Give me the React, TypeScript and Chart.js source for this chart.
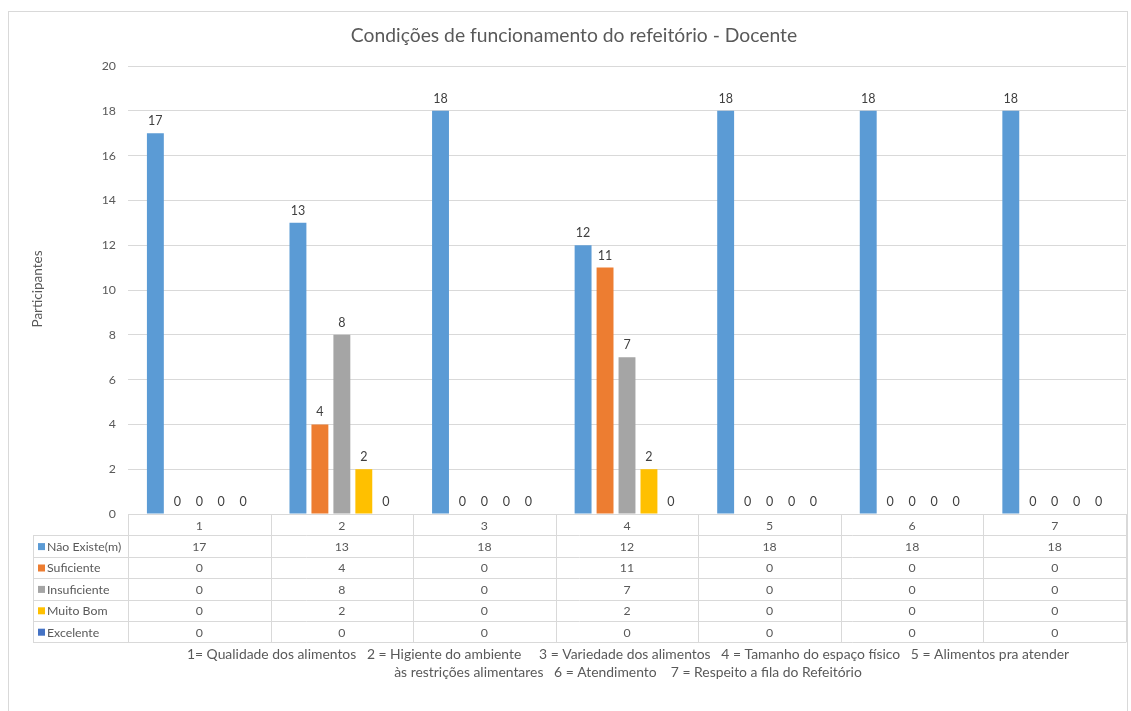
import React, { useEffect, useRef } from "react";
import { Chart, registerables } from "chart.js";

Chart.register(...registerables);

const TITLE = "Condições de funcionamento do refeitório - Docente";
const Y_TITLE = "Participantes";
const categories = ["1", "2", "3", "4", "5", "6", "7"];
const seriesNames = ["Não Existe(m)", "Suficiente", "Insuficiente", "Muito Bom", "Excelente"];
const naoExiste = [17, 13, 18, 12, 18, 18, 18];
const suficiente = [0, 4, 0, 11, 0, 0, 0];
const insuficiente = [0, 8, 0, 7, 0, 0, 0];
const muitoBom = [0, 2, 0, 2, 0, 0, 0];
const excelente = [0, 0, 0, 0, 0, 0, 0];
const seriesColors = ["#5B9BD5", "#ED7D31", "#A5A5A5", "#FFC000", "#4472C4"];
const yTicks = [0, 2, 4, 6, 8, 10, 12, 14, 16, 18, 20];
const footnoteLines = [
  "1= Qualidade dos alimentos   2 = Higiente do ambiente     3 = Variedade dos alimentos   4 = Tamanho do espaço físico   5 = Alimentos pra atender",
  "às restrições alimentares   6 = Atendimento    7 = Respeito a fila do Refeitório",
];

const FONT = "Lato, 'Open Sans', sans-serif";
const TEXT = "#595959";
const GRID = "#D9D9D9";

const W = 1131;
const H = 711;

const decorPlugin = {
  id: "decor",
  beforeDraw(chart: any) {
    const ctx = chart.ctx;
    ctx.save();
    ctx.fillStyle = "#fff";
    ctx.fillRect(0, 0, W, H);
    ctx.strokeStyle = GRID;
    ctx.lineWidth = 1;
    ctx.strokeRect(8.5, 11.5, 1119, 760);
    ctx.restore();
  },
  afterDraw(chart: any) {
    const ctx = chart.ctx;
    const area = chart.chartArea;
    const xs = chart.scales.x;
    ctx.save();
    // Title
    ctx.fillStyle = TEXT;
    ctx.font = `19.3px ${FONT}`;
    ctx.textAlign = "center";
    ctx.textBaseline = "middle";
    ctx.fillText(TITLE, 574, 36);
    // Y title
    ctx.save();
    ctx.translate(38, 289);
    ctx.rotate(-Math.PI / 2);
    ctx.font = `13.5px ${FONT}`;
    ctx.fillText(Y_TITLE, 0, 0);
    ctx.restore();

    // Data labels
    ctx.font = `12.5px ${FONT}`;
    ctx.fillStyle = "#404040";
    ctx.textAlign = "center";
    ctx.textBaseline = "alphabetic";
    chart.data.datasets.forEach((ds: any, di: number) => {
      const meta = chart.getDatasetMeta(di);
      meta.data.forEach((el: any, i: number) => {
        const v = ds.data[i];
        ctx.fillText(String(v), el.x, el.y - 8);
      });
    });

    // Data table
    const n = categories.length;
    const catW = (area.right - area.left) / n;
    const top = area.bottom;
    const rowH = 21.4;
    const rows = seriesNames.length + 1;
    const legLeft = 33;
    ctx.strokeStyle = GRID;
    ctx.lineWidth = 1;
    ctx.beginPath();
    for (let r = 0; r <= rows; r++) {
      const y = Math.round(top + r * rowH) + 0.5;
      const x0 = r === 0 ? area.left : legLeft;
      ctx.moveTo(x0, y);
      ctx.lineTo(area.right, y);
    }
    for (let c = 0; c <= n; c++) {
      const x = Math.round(area.left + c * catW) + 0.5;
      ctx.moveTo(x, top);
      ctx.lineTo(x, top + rows * rowH);
    }
    ctx.moveTo(legLeft + 0.5, top + rowH);
    ctx.lineTo(legLeft + 0.5, top + rows * rowH);
    ctx.stroke();

    ctx.font = `12.3px ${FONT}`;
    ctx.textBaseline = "middle";
    ctx.textAlign = "center";
    ctx.fillStyle = TEXT;
    categories.forEach((c, i) => {
      ctx.fillText(c, xs.getPixelForValue(i), top + rowH / 2 + 1);
    });
    chart.data.datasets.forEach((ds: any, di: number) => {
      const yMid = top + (di + 1) * rowH + rowH / 2 + 1;
      ctx.fillStyle = seriesColors[di];
      ctx.fillRect(38, yMid - 4, 7, 7);
      ctx.fillStyle = TEXT;
      ctx.textAlign = "left";
      ctx.fillText(ds.label, 47, yMid);
      ctx.textAlign = "center";
      ds.data.forEach((v: number, i: number) => {
        ctx.fillText(String(v), xs.getPixelForValue(i), yMid);
      });
    });

    // Footnote
    ctx.font = `13.9px ${FONT}`;
    ctx.fillStyle = TEXT;
    ctx.textAlign = "center";
    footnoteLines.forEach((line, i) => {
      ctx.fillText(line, 628, 655 + i * 18);
    });
    ctx.restore();
  },
};

export default function App() {
  const ref = useRef<HTMLCanvasElement | null>(null);
  useEffect(() => {
    if (!ref.current) return;
    const seriesData = [naoExiste, suficiente, insuficiente, muitoBom, excelente];
    const chart = new Chart(ref.current, {
      type: "bar",
      data: {
        labels: categories,
        datasets: seriesNames.map((name, i) => ({
          label: name,
          data: seriesData[i],
          backgroundColor: seriesColors[i],
          borderWidth: 0,
          barPercentage: 0.77,
          categoryPercentage: 0.77,
        })),
      },
      options: {
        responsive: false,
        animation: false,
        layout: { padding: { left: 0, right: W - 1126, top: 66, bottom: H - 514 } },
        plugins: {
          legend: { display: false },
          title: { display: false },
          tooltip: { enabled: false },
        },
        scales: {
          x: {
            grid: { display: false },
            border: { display: false },
            ticks: { display: false },
            afterFit: (s: any) => {
              s.height = 0;
              s.paddingLeft = 0;
              s.paddingRight = 0;
            },
          },
          y: {
            min: 0,
            max: 20,
            afterBuildTicks: (s: any) => {
              s.ticks = yTicks.map((v) => ({ value: v }));
            },
            grid: { color: GRID, drawTicks: false, lineWidth: 1 },
            border: { display: false },
            ticks: {
              color: TEXT,
              font: { family: FONT, size: 12.3 },
              padding: 12,
            },
            afterFit: (s: any) => {
              s.width = 128;
              s.paddingTop = 0;
              s.paddingBottom = 0;
            },
          },
        },
      },
      plugins: [decorPlugin],
    });
    return () => chart.destroy();
  }, []);
  return (
    <div style={{ position: "absolute", left: 0, top: 0, width: W, height: H }}>
      <canvas ref={ref} width={W} height={H} style={{ display: "block" }} />
    </div>
  );
}
